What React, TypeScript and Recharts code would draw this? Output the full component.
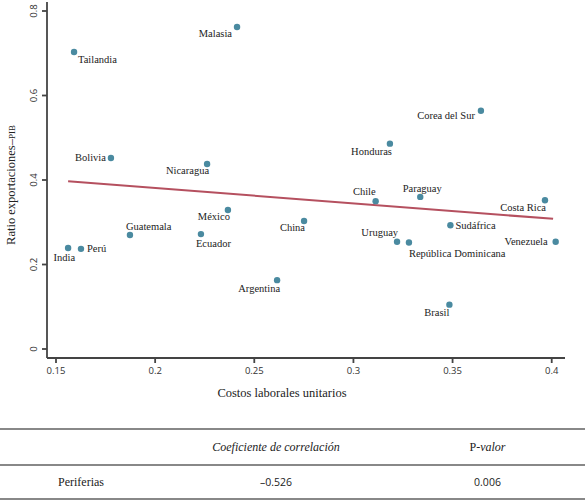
import React from 'react';
import {
  ScatterChart,
  Scatter,
  XAxis,
  YAxis,
  ReferenceLine,
  Label,
} from 'recharts';

const countries = [
  'Malasia', 'Tailandia', 'Bolivia', 'Nicaragua', 'México', 'Guatemala', 'Ecuador',
  'India', 'Perú', 'Argentina', 'China', 'Corea del Sur', 'Honduras', 'Chile',
  'Paraguay', 'Costa Rica', 'Sudáfrica', 'Uruguay', 'República Dominicana',
  'Venezuela', 'Brasil',
];
const costos = [
  0.2413, 0.1591, 0.1777, 0.2262, 0.2367, 0.1873, 0.2231,
  0.1561, 0.1626, 0.2615, 0.2751, 0.3643, 0.3184, 0.3112,
  0.3337, 0.3966, 0.3489, 0.322, 0.328,
  0.402, 0.3484,
];
const ratios = [
  0.762, 0.703, 0.452, 0.438, 0.329, 0.27, 0.272,
  0.239, 0.237, 0.163, 0.303, 0.564, 0.486, 0.35,
  0.36, 0.352, 0.293, 0.254, 0.252,
  0.254, 0.105,
];
const fitX = [0.1561, 0.4007];
const fitY = [0.397, 0.308];
const xTicks = [0.15, 0.2, 0.25, 0.3, 0.35, 0.4];
const yTicks = [0, 0.2, 0.4, 0.6, 0.8];

const tableHeader = ['', 'Coeficiente de correlación', 'P-valor'];
const tableRow = ['Periferias', '–0.526', '0.006'];

// where each country name sits relative to its dot
const placement: Record<string, [string, number, number]> = {
  'Malasia': ['end', -5, 9.5],
  'Tailandia': ['start', 4, 11.5],
  'Bolivia': ['end', -5, 2.5],
  'Nicaragua': ['end', 2, 10.5],
  'México': ['end', 2, 10.5],
  'Guatemala': ['start', -4, -4.5],
  'Ecuador': ['start', -5, 12.5],
  'India': ['end', 7, 12.5],
  'Perú': ['start', 6, 3.5],
  'Argentina': ['end', 3, 11.5],
  'China': ['end', 1, 10.5],
  'Corea del Sur': ['end', -6, 8.5],
  'Honduras': ['end', 2, 11],
  'Chile': ['end', 0, -6.5],
  'Paraguay': ['middle', 2, -5],
  'Costa Rica': ['end', 1, 11],
  'Sudáfrica': ['start', 5, 3.5],
  'Uruguay': ['end', 1, -6],
  'República Dominicana': ['start', 0, 14],
  'Venezuela': ['end', -8, 3.5],
  'Brasil': ['end', 0, 11],
};

const data = countries.map((name, i) => ({ name, x: costos[i], y: ratios[i] }));

const serif = '"Liberation Serif", "DejaVu Serif", serif';
const sans = '"Open Sans", "DejaVu Sans", sans-serif';
const axisColor = '#444';

const Dot = (props: any) => {
  const { cx, cy, payload } = props;
  const [anchor, dx, dy] = placement[payload.name] || ['start', 5, 3];
  return (
    <g>
      <circle cx={cx} cy={cy} r={3.2} fill="#4a8aa0" />
      <text
        x={cx + dx}
        y={cy + dy}
        textAnchor={anchor as any}
        fontFamily={serif}
        fontSize={10.5}
        fill="#222"
      >
        {payload.name}
      </text>
    </g>
  );
};

const YTick = (props: any) => {
  const { x, y, payload } = props;
  return (
    <text
      x={x}
      y={y}
      transform={`rotate(-90 ${x} ${y})`}
      textAnchor="middle"
      fontFamily={sans}
      fontSize={9.5}
      fill="#333"
    >
      {payload.value}
    </text>
  );
};

const cell = (w: number, content: React.ReactNode, style: React.CSSProperties = {}) => (
  <div style={{ width: w, textAlign: 'center', ...style }}>{content}</div>
);

export default function App() {
  const colW = [162, 228, 195];
  return (
    <div style={{ position: 'absolute', left: 0, top: 0, width: 585, height: 503, background: '#fff' }}>
      <ScatterChart width={585} height={420} margin={{ top: 2, right: 20, bottom: 0, left: 0 }}>
        <XAxis
          type="number"
          dataKey="x"
          domain={[0.14546, 0.4067]}
          ticks={xTicks}
          allowDataOverflow
          height={62}
          stroke={axisColor}
          strokeWidth={1.8}
          tickSize={5}
          tickMargin={4}
          tick={{ fontFamily: sans, fontSize: 9.5, fill: '#333' }}
        >
          <Label
            content={() => (
              <text x={282} y={397} textAnchor="middle" fontFamily={serif} fontSize={12.5} fill="#222">
                Costos laborales unitarios
              </text>
            )}
          />
        </XAxis>
        <YAxis
          type="number"
          dataKey="y"
          domain={[-0.0213, 0.8213]}
          ticks={yTicks}
          allowDataOverflow
          width={47}
          stroke={axisColor}
          strokeWidth={1.8}
          tickSize={5}
          tickMargin={5}
          tick={<YTick />}
        >
          <Label
            content={() => (
              <text
                x={15}
                y={185}
                transform="rotate(-90 15 185)"
                textAnchor="middle"
                fontFamily={serif}
                fontSize={12.5}
                fill="#222"
              >
                Ratio exportaciones–<tspan style={{ fontVariant: 'small-caps' }}>pib</tspan>
              </text>
            )}
          />
        </YAxis>
        <ReferenceLine
          segment={[
            { x: fitX[0], y: fitY[0] },
            { x: fitX[1], y: fitY[1] },
          ]}
          stroke="#b5505f"
          strokeWidth={2}
        />
        <Scatter data={data} shape={<Dot />} isAnimationActive={false} />
      </ScatterChart>

      <div style={{ position: 'absolute', left: 0, top: 428, width: 585 }}>
        <div
          style={{
            display: 'flex',
            alignItems: 'center',
            height: 34,
            borderTop: '2px solid #888',
            borderBottom: '2px solid #888',
            fontFamily: serif,
            fontSize: 12,
            color: '#222',
          }}
        >
          {cell(colW[0], tableHeader[0])}
          {cell(colW[1], tableHeader[1], { fontStyle: 'italic' })}
          {cell(colW[2], (
            <span>
              P-<i>valor</i>
            </span>
          ))}
        </div>
        <div
          style={{
            display: 'flex',
            alignItems: 'center',
            height: 32,
            borderBottom: '2px solid #888',
            color: '#222',
          }}
        >
          {cell(colW[0], tableRow[0], { fontFamily: serif, fontSize: 12 })}
          {cell(colW[1], tableRow[1], { fontFamily: sans, fontSize: 10.5 })}
          {cell(colW[2], tableRow[2], { fontFamily: sans, fontSize: 10.5 })}
        </div>
      </div>
    </div>
  );
}
